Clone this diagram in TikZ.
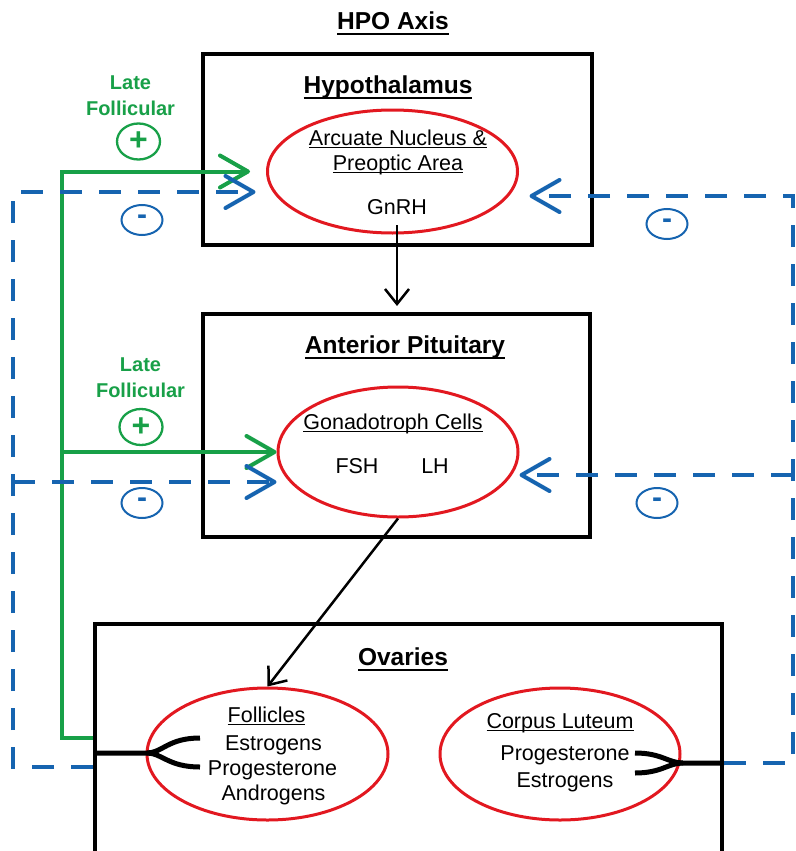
\documentclass[tikz,border=0pt]{standalone}
\usepackage{fontspec}
\setmainfont{Liberation Sans}
\usetikzlibrary{arrows.meta, shapes.geometric, calc}
\definecolor{hpogreen}{RGB}{24,160,72}
\definecolor{hpoblue}{RGB}{22,100,176}
\definecolor{hpored}{RGB}{226,24,32}
\newsavebox{\ulbox}
\newcommand{\undl}[1]{\sbox{\ulbox}{#1}\rlap{\rule[-3.2pt]{\wd\ulbox}{1.3pt}}\usebox{\ulbox}}
\newcommand{\undlb}[1]{\sbox{\ulbox}{#1}\rlap{\rule[-5.5pt]{\wd\ulbox}{2pt}}\usebox{\ulbox}}
\tikzset{
  box/.style={rectangle, draw=black, line width=4pt, inner sep=0pt},
  oval/.style={ellipse, draw=hpored, line width=3pt, inner sep=0pt},
  txt/.style={anchor=base, inner sep=0pt, font=\fontsize{21.5}{25}\selectfont},
  head/.style={anchor=base, inner sep=0pt, font=\fontsize{24.5}{28}\selectfont\bfseries},
  barrow/.style={-{Straight Barb[length=15pt,width=24pt]}, line width=2.5pt, color=black},
  fork/.style={line width=5pt, color=black}
}

\begin{document}
\begin{tikzpicture}[x=1pt, y=-1pt,
  lbl/.style={anchor=base, inner sep=0pt, align=center, text=hpogreen, font=\fontsize{20}{25.5}\selectfont\bfseries},
  plus/.style={ellipse, draw=hpogreen, text=hpogreen, line width=2.3pt, minimum width=43pt, minimum height=36pt, inner sep=0pt, font=\fontsize{32}{32}\selectfont\bfseries},
  minus/.style={ellipse, draw=hpoblue, text=hpoblue, line width=2pt, minimum width=41pt, minimum height=30pt, inner sep=0pt, font=\fontsize{30}{30}\selectfont\bfseries},
  garrow/.style={-{Straight Barb[length=28pt,width=32pt,round]}, line width=4pt, color=hpogreen},
  bdash/.style={-{Straight Barb[length=28pt,width=32pt,round]}, line width=4pt, color=hpoblue, dash pattern=on 22pt off 17pt}]

  \useasboundingbox (0,0) rectangle (795,851);

  \node[head] (title) at (393,30) {\undlb{HPO Axis}};

  % boxes
  \node[box, minimum width=389pt, minimum height=191pt] (hyp) at (397.5,149.5) {};
  \node[box, minimum width=387pt, minimum height=223pt] (pit) at (396.5,425.5) {};
  \node[box, minimum width=627pt, minimum height=256pt] (ova) at (408.5,752) {};

  \node[head] (hyphead) at (388,93) {\undlb{Hypothalamus}};
  \node[head] (pithead) at (405,353) {\undlb{Anterior Pituitary}};
  \node[head] (ovhead) at (403,665) {\undlb{Ovaries}};

  % ellipses
  \node[oval, minimum width=250pt, minimum height=123pt] (earc) at (392.5,171.5) {};
  \node[oval, minimum width=240pt, minimum height=130pt] (egon) at (398,452) {};
  \node[oval, minimum width=241pt, minimum height=132pt] (efol) at (267.5,754) {};
  \node[oval, minimum width=240pt, minimum height=132pt] (ecl) at (560,754) {};

  \node[txt] (arc1) at (398,145) {\undl{Arcuate Nucleus \&}};
  \node[txt] (arc2) at (398,170) {\undl{Preoptic Area}};
  \node[txt] (gnrh) at (397,214) {GnRH};
  \node[txt] (gonhead) at (393,429) {\undl{Gonadotroph Cells}};
  \node[txt] (fsh) at (357,473) {FSH};
  \node[txt] (lh) at (435,473) {LH};
  \node[txt] (folhead) at (266.5,722) {\undl{Follicles}};
  \node[txt] (fol1) at (273.5,750) {Estrogens};
  \node[txt] (fol2) at (272.5,775) {Progesterone};
  \node[txt] (fol3) at (273.5,800) {Androgens};
  \node[txt] (clhead) at (560,728) {\undl{Corpus Luteum}};
  \node[txt] (cl1) at (565,760) {Progesterone};
  \node[txt] (cl2) at (565,787) {Estrogens};

  % hormone arrows
  \draw[barrow, shorten <=11pt, shorten >=6pt] (gnrh.south) -- (gnrh.south |- pit.north);
  \draw[barrow] (egon.south) -- (efol.north);

  % secretion forks
  \coordinate (fj) at (147,753);
  \coordinate (fa) at (200,738);
  \coordinate (fb) at (200,767);
  \draw[fork] (fa) .. controls (168,738) and (162,753) .. (fj) -- (ova.west |- fj);
  \draw[fork] (fb) .. controls (168,767) and (162,753) .. (fj);
  \coordinate (cj) at (683,763);
  \coordinate (ca) at (635,753);
  \coordinate (cb) at (635,773);
  \draw[fork] (ca) .. controls (662,753) and (668,763) .. (cj) -- (ova.east |- cj);
  \draw[fork] (cb) .. controls (662,773) and (668,763) .. (cj);

  % positive feedback
  \coordinate (gbus) at (62,738);
  \draw[garrow] (ova.west |- gbus) -- (gbus) |- ([xshift=-16pt]earc.west);
  \draw[garrow] (gbus |- egon.west) -- (egon.west);
  \node[lbl] (late1) at (130.5,115) {Late\\Follicular};
  \node[lbl] (late2) at (140.5,397) {Late\\Follicular};
  \node[plus] (plus1) at (138.5,141.5) {+};
  \node[plus] (plus2) at (141,427) {+};

  % negative feedback
  \coordinate (lbus) at (13,767);
  \coordinate (rbus) at (793,763);
  \draw[bdash] (ova.west |- lbus) -- (lbus) |- ([shift={(-10.5,20.5)}]earc.west);
  \draw[bdash] (lbus |- 0,482) -- ([shift={(0,30)}]egon.west);
  \draw[bdash] (ova.east |- rbus) -- (rbus) |- ([shift={(10.5,24.5)}]earc.east);
  \draw[bdash] (rbus |- 0,475) -- ([shift={(0,23)}]egon.east);
  \node[minus] (minus1) at (142,220) {-};
  \node[minus] (minus2) at (142,503) {-};
  \node[minus] (minus3) at (667,224) {-};
  \node[minus] (minus4) at (657,503) {-};

\end{tikzpicture}
\end{document}
